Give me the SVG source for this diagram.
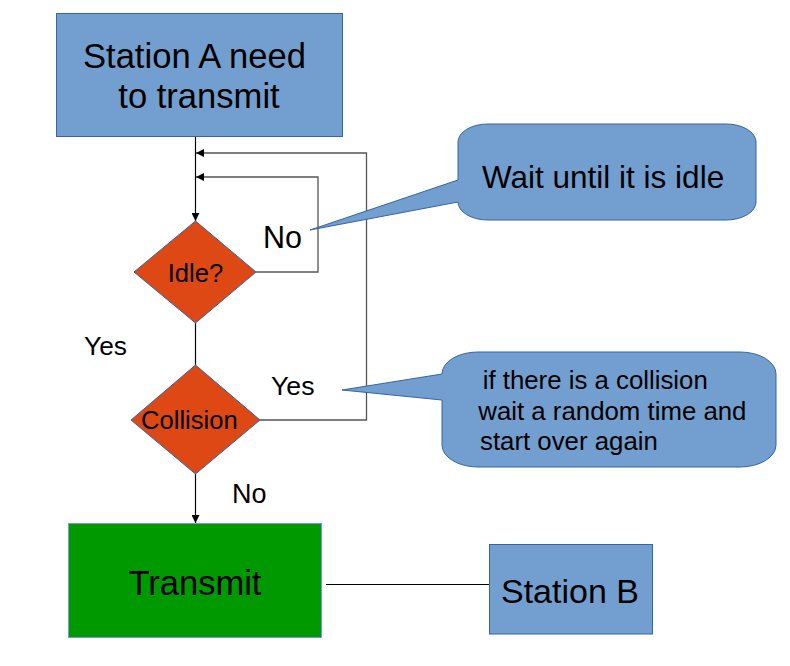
<svg xmlns="http://www.w3.org/2000/svg" width="790" height="666" viewBox="0 0 790 666">
<defs>
<style>
.box{fill:#729fcf;stroke:#3465a4;stroke-width:1}
.dia{fill:#dd4814;stroke:#3465a4;stroke-width:1}
.grn{fill:#009900;stroke:#729fcf;stroke-width:1}
.t{font-family:"Liberation Sans",Arial,sans-serif;fill:#000}
.ln{fill:none;stroke:#000;stroke-width:1.2}
.lp{fill:none;stroke:#555;stroke-width:1.3}
</style>
<marker id="ah" viewBox="0 0 10 10" refX="10" refY="5" markerWidth="8" markerHeight="8" markerUnits="userSpaceOnUse" orient="auto">
<path d="M0,0 L10,5 L0,10 Z" fill="#000"/>
</marker>
</defs>
<rect width="790" height="666" fill="#fff"/>
<g id="connectors">
<line class="ln" x1="195.5" y1="137" x2="195.5" y2="221" marker-end="url(#ah)"/>
<polyline class="lp" points="256,272 318,272 318,177 196,177" marker-end="url(#ah)"/>
<polyline class="lp" points="260,420 366.5,420 366.5,153 196,153" marker-end="url(#ah)"/>
<line class="ln" x1="195.5" y1="323" x2="195.5" y2="365"/>
<line class="ln" x1="195.5" y1="474" x2="195.5" y2="523" marker-end="url(#ah)"/>
<line class="ln" x1="326" y1="584.5" x2="489" y2="584.5"/>
</g>
<g id="stationA">
<rect class="box" x="56.5" y="13.5" width="286" height="123"/>
<text class="t" x="194.5" y="68" font-size="34.6" text-anchor="middle">Station A need</text>
<text class="t" x="199" y="108" font-size="34.6" text-anchor="middle">to transmit</text>
</g>
<g id="idle">
<polygon class="dia" points="195.5,221 256,272 195.5,323 134,272"/>
<text class="t" x="195.5" y="282" font-size="25.6" text-anchor="middle">Idle?</text>
</g>
<g id="collision">
<polygon class="dia" points="195.5,365 260,420 195.5,474 131,420"/>
<text class="t" x="141" y="429" font-size="25.6">Collision</text>
</g>
<g id="transmit">
<rect class="grn" x="68.5" y="523.5" width="253" height="114"/>
<text class="t" x="195" y="595" font-size="34.5" text-anchor="middle">Transmit</text>
</g>
<g id="stationB">
<rect class="box" x="489.5" y="544.5" width="163" height="89.5"/>
<text class="t" x="570" y="603" font-size="34" text-anchor="middle">Station B</text>
</g>
<g id="callout1">
<path class="box" d="M488,124 H726 A30 18 0 0 1 756,142 V202 A30 18 0 0 1 726,220 H488 A30 18 0 0 1 458,202 L310,230 L458,180 V142 A30 18 0 0 1 488,124 Z"/>
<text class="t" x="482" y="188" font-size="31.5">Wait until it is idle</text>
</g>
<g id="callout2">
<path class="box" d="M478,352 H740 A36 22 0 0 1 776,374 V445 A36 22 0 0 1 740,467 H478 A36 22 0 0 1 442,445 V400 L342,390 L442,374 A36 22 0 0 1 478,352 Z"/>
<text class="t" x="482.7" y="389" font-size="25.8">if there is a collision</text>
<text class="t" x="478.3" y="420" font-size="25.8">wait a random time and</text>
<text class="t" x="480" y="450" font-size="25.8">start over again</text>
</g>
<g id="labels">
<text class="t" x="263" y="248" font-size="30.5">No</text>
<text class="t" x="84" y="355" font-size="26.3">Yes</text>
<text class="t" x="271" y="395" font-size="26.7">Yes</text>
<text class="t" x="232" y="503" font-size="27">No</text>
</g>
</svg>
